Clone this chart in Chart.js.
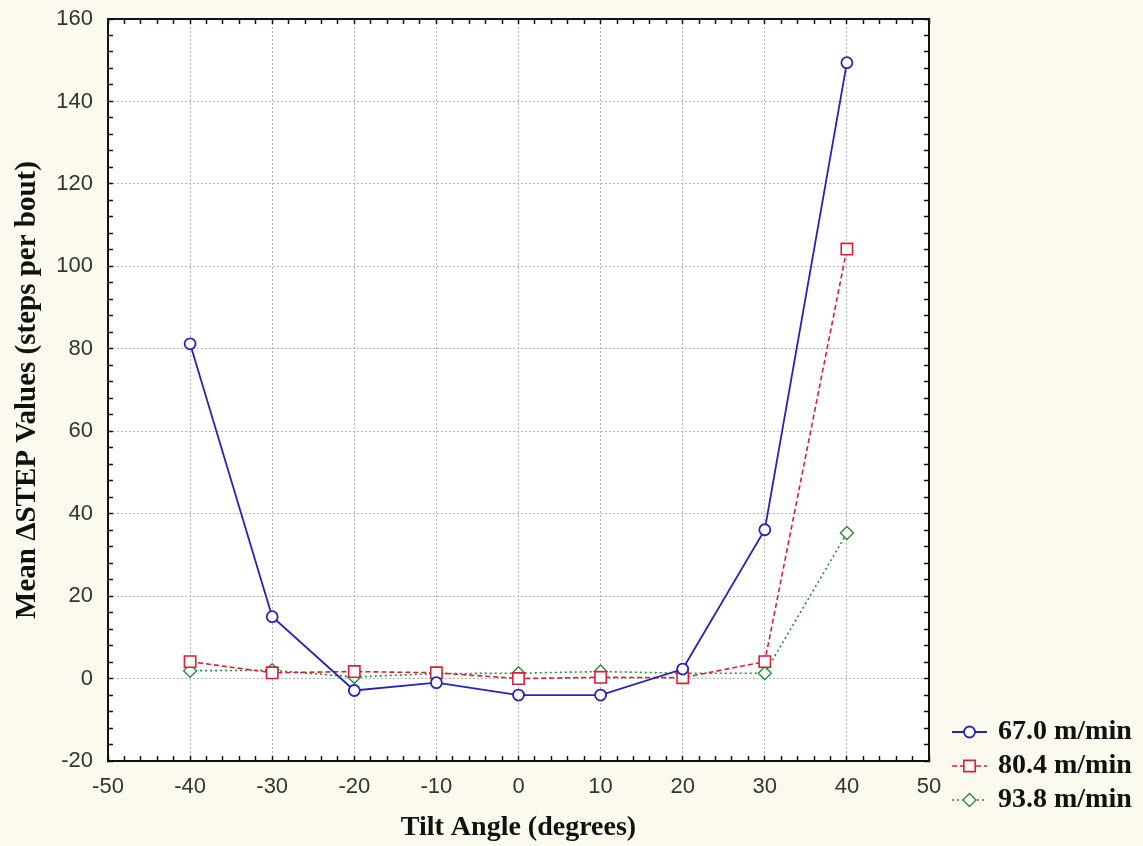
<!DOCTYPE html>
<html lang="en">
<head>
    <meta charset="UTF-8">
    <title>Mean ΔSTEP Values vs Tilt Angle</title>
    <style>
        html, body {
            margin: 0;
            padding: 0;
            background-color: #fcf9ef;
        }
        #wrap {
            width: 1143px;
            height: 846px;
        }
    </style>
</head>
<body>
    <div id="wrap"><canvas id="stepChart"></canvas></div>
    <script src="https://cdn.jsdelivr.net/npm/chart.js"></script>
    <script>
        // tilt angles (degrees)
        const angles = [-40, -30, -20, -10, 0, 10, 20, 30, 40];

        // mean delta STEP per speed
        const speed670 = [81.2, 15.0, -2.9, -1.0, -4.0, -4.0, 2.3, 36.1, 149.4];
        const speed804 = [4.1, 1.4, 1.7, 1.4, 0.0, 0.3, 0.2, 4.1, 104.2];
        const speed938 = [1.9, 2.0, 0.4, 1.2, 1.3, 1.7, 1.3, 1.3, 35.3];

        const seriesNames = ['67.0 m/min', '80.4 m/min', '93.8 m/min'];

        const xMin = -50, xMax = 50, xStep = 2;
        const yMin = -20, yMax = 160, yStep = 4;

        function toPoints(values) {
            return angles.map((a, i) => ({ x: a, y: values[i] }));
        }

        // white plot area
        const plotBackground = {
            id: 'plotBackground',
            beforeDraw(chart) {
                const { ctx, chartArea } = chart;
                ctx.save();
                ctx.fillStyle = '#ffffff';
                ctx.fillRect(chartArea.left, chartArea.top, chartArea.right - chartArea.left, chartArea.bottom - chartArea.top);
                ctx.restore();
            }
        };

        // legend with line + marker sample, below right of the plot
        const sampleLegend = {
            id: 'sampleLegend',
            afterDraw(chart) {
                const ctx = chart.ctx;
                const x0 = 952, x1 = 987, tx = 998;
                const rows = [732, 766, 800];
                chart.data.datasets.forEach((ds, i) => {
                    const y = rows[i];
                    ctx.save();
                    ctx.strokeStyle = ds.borderColor;
                    ctx.lineWidth = ds.borderWidth;
                    ctx.setLineDash(ds.borderDash || []);
                    ctx.beginPath();
                    ctx.moveTo(x0, y);
                    ctx.lineTo(x1, y);
                    ctx.stroke();
                    ctx.setLineDash([]);
                    ctx.fillStyle = ds.pointBackgroundColor;
                    ctx.strokeStyle = ds.pointBorderColor;
                    ctx.lineWidth = ds.pointBorderWidth;
                    Chart.helpers.drawPoint(ctx, {
                        pointStyle: ds.pointStyle,
                        radius: ds.pointRadius,
                        rotation: 0,
                        borderWidth: ds.pointBorderWidth
                    }, (x0 + x1) / 2, y);
                    ctx.fillStyle = '#111111';
                    ctx.font = 'bold 28px "Liberation Serif", serif';
                    ctx.textBaseline = 'middle';
                    ctx.textAlign = 'left';
                    ctx.fillText(ds.label, tx, y);
                    ctx.restore();
                });
            }
        };

        const tickFont = { family: '"Liberation Sans", Arial, sans-serif', size: 22 };
        const titleFontX = { family: '"Liberation Serif", "Times New Roman", serif', size: 28, weight: 'bold' };
        const titleFontY = { family: '"Liberation Serif", "Times New Roman", serif', size: 29, weight: 'bold' };

        const ctx = document.getElementById('stepChart').getContext('2d');
        new Chart(ctx, {
            type: 'scatter',
            data: {
                datasets: [{
                    label: seriesNames[0],
                    data: toPoints(speed670),
                    showLine: true,
                    borderColor: '#2424b8',
                    borderWidth: 1.8,
                    pointStyle: 'circle',
                    pointRadius: 5.5,
                    pointBorderWidth: 1.8,
                    pointBackgroundColor: '#ffffff',
                    pointBorderColor: '#2424b8'
                }, {
                    label: seriesNames[1],
                    data: toPoints(speed804),
                    showLine: true,
                    borderColor: '#d8203a',
                    borderWidth: 1.6,
                    borderDash: [5, 3],
                    pointStyle: 'rect',
                    pointRadius: 8,
                    pointBorderWidth: 1.6,
                    pointBackgroundColor: '#ffffff',
                    pointBorderColor: '#d8203a'
                }, {
                    label: seriesNames[2],
                    data: toPoints(speed938),
                    showLine: true,
                    borderColor: '#2a8a3a',
                    borderWidth: 1.6,
                    borderDash: [2, 3],
                    pointStyle: 'rectRot',
                    pointRadius: 6.5,
                    pointBorderWidth: 1.4,
                    pointBackgroundColor: '#ffffff',
                    pointBorderColor: '#2a8a3a'
                }]
            },
            options: {
                responsive: true,
                maintainAspectRatio: false,
                animation: false,
                layout: {
                    padding: { left: 0, top: 19, right: 214, bottom: 0 }
                },
                plugins: {
                    legend: { display: false },
                    tooltip: { enabled: false }
                },
                elements: {
                    line: { tension: 0 }
                },
                scales: {
                    x: {
                        type: 'linear',
                        position: 'bottom',
                        min: xMin,
                        max: xMax,
                        afterFit(scale) { scale.height = 85; },
                        ticks: {
                            stepSize: xStep,
                            autoSkip: false,
                            maxRotation: 0,
                            padding: 18,
                            color: '#333333',
                            font: tickFont,
                            callback: v => (v % 10 === 0 ? String(v) : '')
                        },
                        grid: {
                            color: c => (c.tick && c.tick.value % 10 === 0 ? '#b4b4b4' : 'rgba(0,0,0,0)'),
                            lineWidth: 1,
                            tickLength: -5,
                            tickColor: '#111111',
                            tickWidth: 1.5
                        },
                        border: { display: true, color: '#111111', width: 2, dash: [2, 2] },
                        title: {
                            display: true,
                            text: 'Tilt Angle (degrees)',
                            color: '#111111',
                            font: titleFontX,
                            padding: { top: 0, bottom: 1 }
                        }
                    },
                    x2: {
                        type: 'linear',
                        position: 'top',
                        min: xMin,
                        max: xMax,
                        afterFit(scale) { scale.height = 0; },
                        ticks: { stepSize: xStep, autoSkip: false, display: false },
                        grid: { drawOnChartArea: false, tickLength: -5, tickColor: '#111111', tickWidth: 1.5 },
                        border: { display: true, color: '#111111', width: 2 }
                    },
                    y: {
                        type: 'linear',
                        position: 'left',
                        min: yMin,
                        max: yMax,
                        afterFit(scale) {
                            scale.width = 108;
                            // tick padding would otherwise push the plot top down
                            scale.paddingTop = 0;
                            scale.paddingBottom = 0;
                        },
                        ticks: {
                            stepSize: yStep,
                            autoSkip: false,
                            padding: 20,
                            color: '#333333',
                            font: tickFont,
                            callback: v => (v % 20 === 0 ? String(v) : '')
                        },
                        grid: {
                            color: c => (c.tick && c.tick.value % 20 === 0 ? '#b4b4b4' : 'rgba(0,0,0,0)'),
                            lineWidth: 1,
                            tickLength: -5,
                            tickColor: '#111111',
                            tickWidth: 1.5
                        },
                        border: { display: true, color: '#111111', width: 2, dash: [2, 2] },
                        title: {
                            display: true,
                            text: 'Mean ΔSTEP Values (steps per bout)',
                            color: '#111111',
                            font: titleFontY,
                            padding: { top: 10, bottom: 0 }
                        }
                    },
                    y2: {
                        type: 'linear',
                        position: 'right',
                        min: yMin,
                        max: yMax,
                        afterFit(scale) { scale.width = 0; },
                        ticks: { stepSize: yStep, autoSkip: false, display: false },
                        grid: { drawOnChartArea: false, tickLength: -5, tickColor: '#111111', tickWidth: 1.5 },
                        border: { display: true, color: '#111111', width: 2 }
                    }
                }
            },
            plugins: [plotBackground, sampleLegend]
        });
    </script>
</body>
</html>
